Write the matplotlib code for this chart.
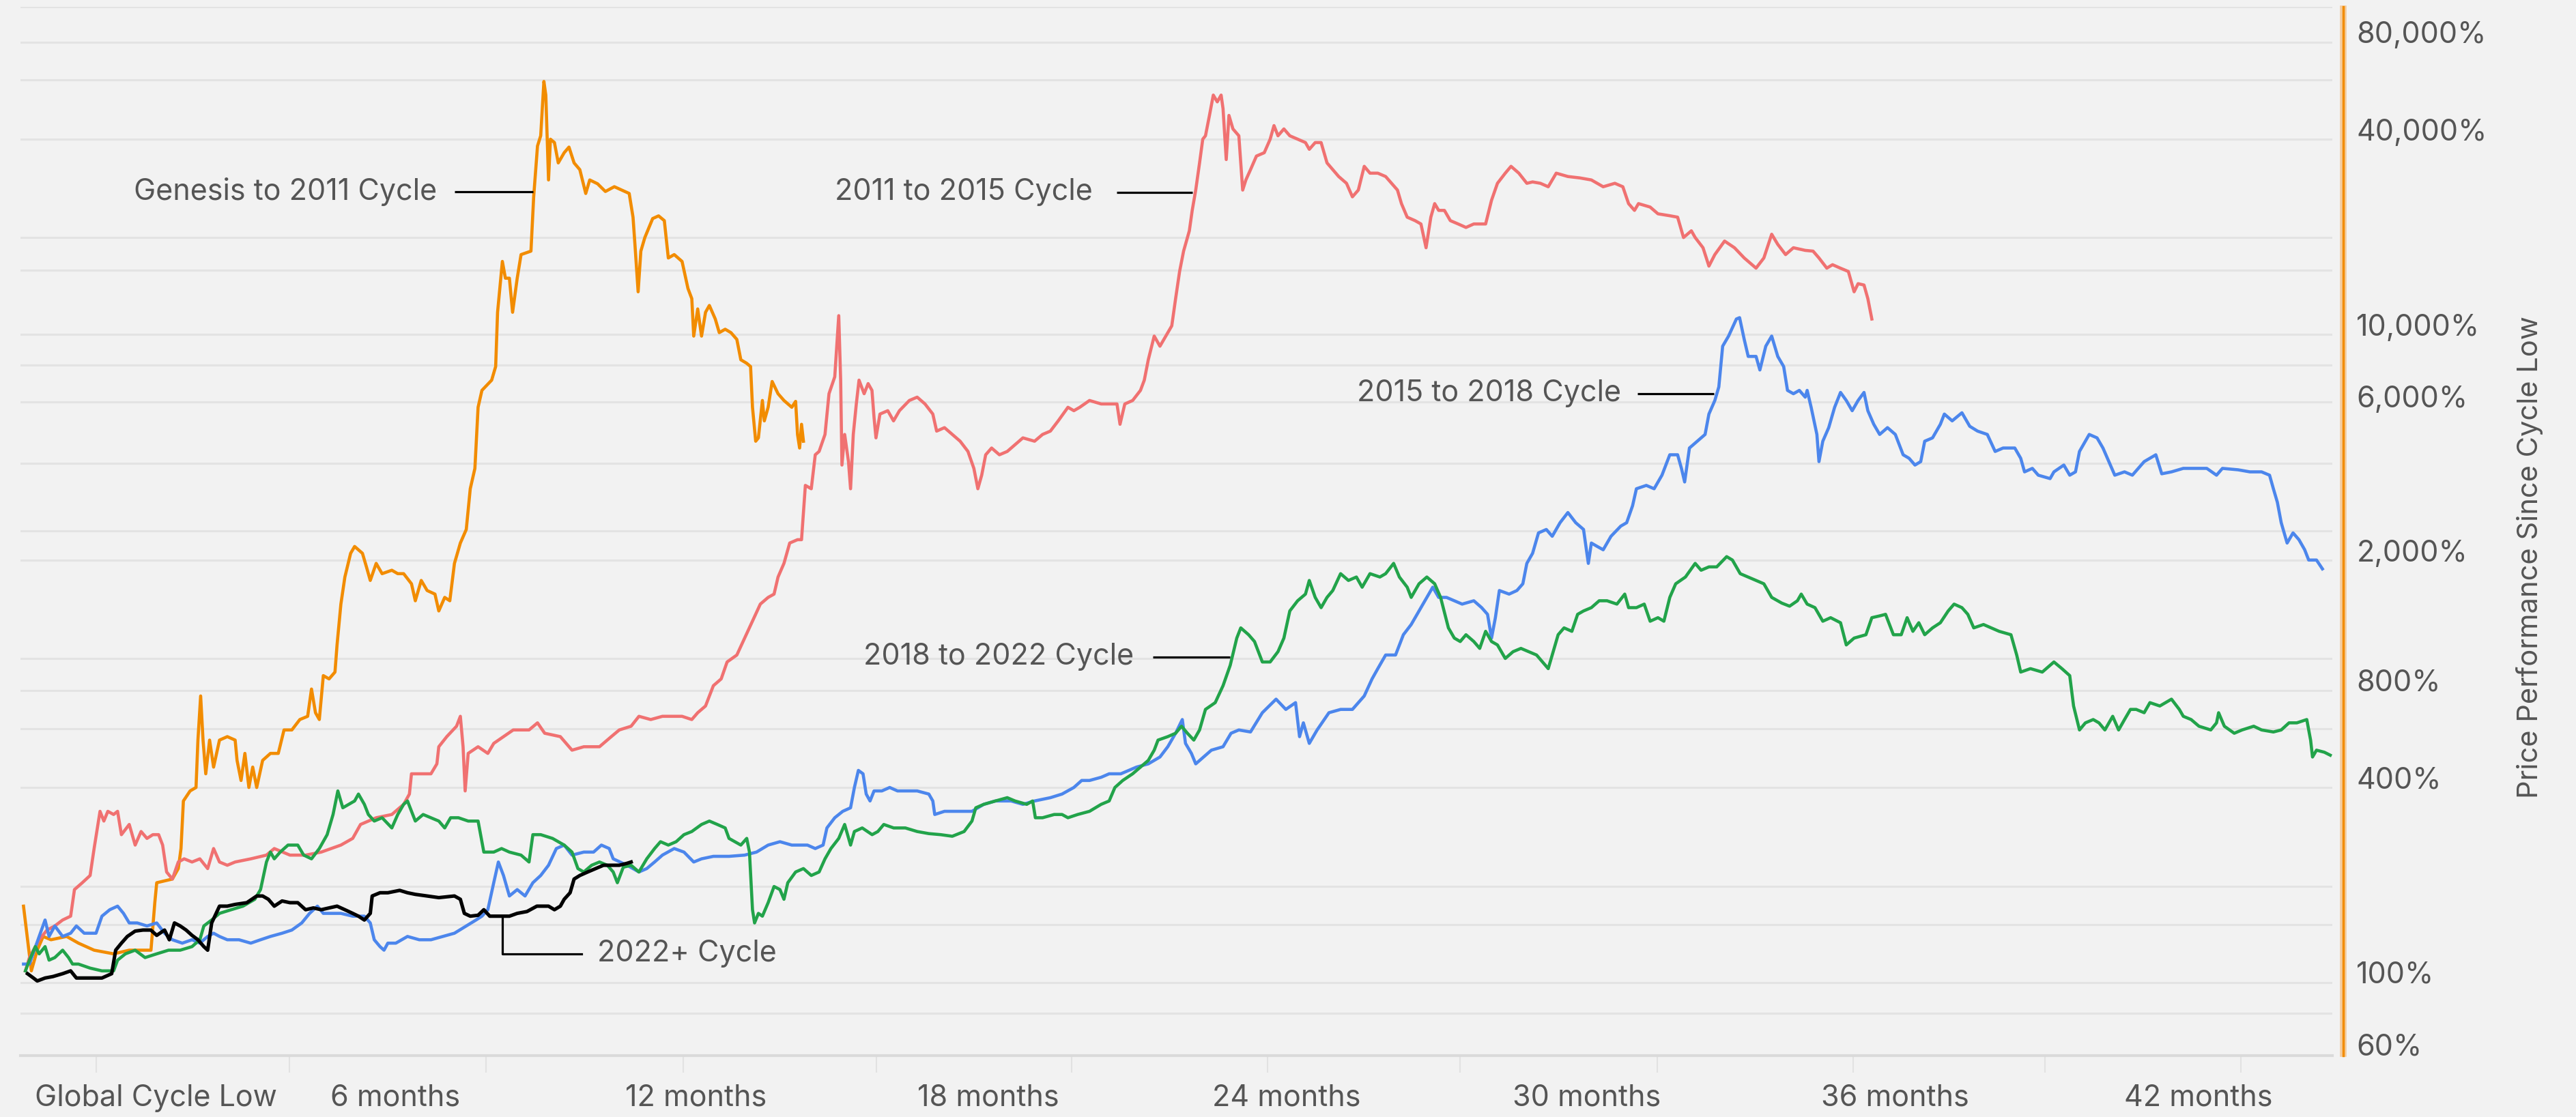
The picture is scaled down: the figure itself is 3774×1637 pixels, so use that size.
import matplotlib
matplotlib.use("Agg")
import matplotlib.pyplot as plt
from matplotlib.ticker import NullLocator, FixedLocator
from matplotlib.lines import Line2D

plt.rcParams['font.family'] = ['Inter', 'DejaVu Sans']

# ---- data: days since cycle low vs price performance (%) ----
genesis_days = [0.2, 5.1, 8.8, 12.5, 17.4, 27.2, 34.6, 44.4, 56.6, 66.4, 80, 82.4, 83.6, 93.4, 97.1, 98.8,
                100.3, 104.5, 108.2, 109.4, 111.1, 112.6, 114.3, 116.7, 119.2, 122.9, 127.8, 132.7, 133.9,
                136.4, 138.8, 141.3, 143.7, 146.2, 149.9, 154.8, 159.7, 163.3, 168.2, 173.2, 178.1, 180.5,
                183, 185.4, 187.9, 191.5, 195.2, 196.5, 198.9, 201.4, 205, 207.5, 212.4, 214.9, 217.3, 221,
                224.7, 230.8, 234.5, 238.2, 243.1, 245.5, 249.2, 252.9, 257.8, 260.2, 263.9, 267.1, 270,
                273.7, 277.4, 279.9, 282.8, 284.8, 287.2, 293.3, 295.8, 297, 300, 301.9, 304.4, 306.4, 309.3,
                311.7, 317.9, 319.6, 322, 324, 326, 327.2, 328.9, 330.1, 332.6, 335, 338.7, 341.7, 344.9,
                348.5, 352.2, 354.7, 359.6, 364.5, 370.1, 379.4, 381.8, 383, 385, 386.7, 389.2, 394.1, 397.8,
                401.4, 403.9, 407.6, 412.5, 416.2, 418.6, 419.8, 422.3, 424.7, 427.2, 429.6, 433.3, 435.8,
                439.5, 443.1, 446.8, 449.3, 452.9, 455.4, 456.6, 458.6, 460.3, 462.8, 464, 466.4, 468.9,
                472.6, 476.3, 481.2, 483.6, 484.8, 486.1, 487.3, 488.5]
genesis_pct = [160, 101, 117, 129, 126, 129, 123, 117, 114, 117, 117, 164, 189, 194, 209, 241,
               338, 363, 372, 521, 713, 521, 410, 521, 430, 521, 534, 521, 451,
               391, 474, 372, 430, 372, 451, 474, 474, 560, 560, 603, 617, 749,
               633, 603, 824, 805, 845, 1025, 1370, 1661, 1966, 2064, 1966, 1785, 1621, 1830,
               1701, 1743, 1701, 1701, 1583, 1403, 1621, 1509, 1471, 1305, 1437, 1403, 1830,
               2115, 2329, 3111, 3594, 5552, 6261, 6733, 7417, 10910, 15660, 13900, 13900, 10910, 13900,
               16440, 16850, 24790, 35580, 38260, 56300, 51100, 27950, 37340, 36460, 31550, 33920, 35300, 31550,
               30070, 25390, 27950, 27200, 25750, 26640, 25390, 21450, 17680, 12620, 16850, 18560, 21240, 21650,
               20930, 16050, 16440, 15660, 12920, 12020, 9210, 11170, 9210, 10910, 11450, 10400, 9440,
               9670, 9440, 8995, 7783, 7595, 7417, 5552, 4362, 4467, 5827, 5041, 5552, 6670,
               6114, 5827, 5552, 5790, 4577, 4156, 4920, 4362]

c2011_days = [1.4, 3.9, 6.4, 10, 14.9, 19.8, 24.7, 29.7, 32.1, 37, 41.9, 44.4, 48.1, 50.5, 53, 56.6, 59.1,
              61.5, 66.4, 70.1, 73.8, 77.5, 81.2, 84.8, 87.3, 89.8, 93.4, 97.1, 100.8, 105.7, 110.6, 115.5,
              119.2, 122.9, 127.8, 132.7, 142.5, 152.3, 157.2, 167, 176.8, 186.6, 198.9, 206.3, 211.2, 216.1,
              221, 230.8, 238.2, 241.8, 243.1, 249.2, 255.3, 259, 260.2, 265.2, 271.3, 273.7, 275.4, 276.7,
              278.6, 284.8, 290.9, 294.6, 300.7, 306.8, 316.7, 322, 326.5, 336.3, 343.6, 351, 360.8, 368.2,
              373.2, 380.6, 385.5, 392.9, 400.2, 412.5, 418.6, 422.3, 427.2, 432.1, 437, 440.7, 446.8, 451.7,
              456.6, 461.5, 466.4, 470.1, 472.6, 476.3, 479.9, 484.8, 487.3, 489.7, 493.4, 495.9, 498.3, 502,
              504.5, 508.1, 510.6, 511.8, 512.6, 514.3, 516.7, 518, 519.7, 521.6, 523.3, 526.5, 529, 531.4,
              532.7, 533.9, 536.4, 541.3, 544.9, 548.6, 554.8, 559.7, 564.6, 569.5, 571.9, 576.8, 581.7,
              586.6, 591.5, 595.2, 597.7, 600.1, 602.6, 606.3, 611.2, 616.1, 621, 625.9, 633.2, 638.2, 643.1,
              648, 654.1, 657.8, 661.5, 667.6, 674.9, 684.8, 686.7, 689.7, 694.6, 699.5, 701.9, 704.4, 708.1,
              711.7, 716.6, 719.1, 721.5, 724, 726.5, 730.1, 731.9, 734.1, 736.5, 738.5, 740.2, 742.7, 745.1,
              747.6, 750, 751.2, 753.2, 754.9, 757.4, 761.1, 763.5, 765.5, 768.4, 772.1, 777, 780.7, 783.1,
              785.6, 789.3, 793, 797.9, 802.8, 805.2, 808.9, 812.6, 816.3, 819.9, 823.6, 828.5, 832.2, 835.9,
              839.6, 843.2, 848.1, 853, 856.7, 860.4, 862.9, 866.5, 871.4, 875.1, 878.3, 881.3, 883.7, 886.2,
              889.8, 893.5, 898.4, 903.3, 908.2, 915.6, 919.3, 923, 927.9, 931.5, 936.4, 941.4, 945, 949.9,
              954.8, 959.8, 967.1, 974.5, 981.8, 989.2, 996.5, 1001.5, 1005.1, 1008.8, 1011.3, 1018.6,
              1023.5, 1030.9, 1035.8, 1039.5, 1044.4, 1046.8, 1051.7, 1055.4, 1059.1, 1065.2, 1071.4,
              1077.5, 1084.9, 1089.8, 1094.7, 1098.5, 1103.4, 1108.3, 1115.7, 1120.6, 1124.3, 1129.2,
              1132.8, 1137.7, 1142.7, 1146.3, 1148.8, 1152.5, 1154.9, 1157.4]
c2011_pct = [101, 111, 117, 126, 135, 139, 145, 149, 180, 189, 199, 241, 314, 293, 314, 307, 314,
             266, 286, 247, 272, 259, 266, 266, 247, 204, 194, 219, 224, 219, 224, 209,
             241, 219, 214, 219, 224, 230, 241, 230, 230, 235, 247, 259, 286, 293,
             300, 307, 330, 355, 410, 410, 410, 440, 497, 534, 575, 617, 497, 363,
             474, 497, 474, 509, 534, 560, 560, 589, 547, 534, 485, 497, 497, 534,
             560, 575, 617, 603, 617, 617, 603, 633, 664, 767, 805, 908, 954, 1076,
             1213, 1370, 1437, 1471, 1661, 1830, 2115, 2166, 2166, 3186, 3111, 3961, 4056, 4577,
             6114, 6895, 10650, 6733, 3682, 4577, 3773, 3111, 4577, 5685, 6733, 6114, 6571, 6261,
             5162, 4467, 5291, 5419, 5041, 5419, 5827, 5967, 5685, 5291, 4687, 4804, 4577,
             4362, 4056, 3596, 3111, 3426, 3961, 4156, 3961, 4056, 4256, 4467, 4362, 4577, 4687,
             5041, 5552, 5419, 5552, 5827, 5685, 5685, 4920, 5685, 5827, 6261, 6733, 7783, 9211,
             8572, 9440, 9906, 12020, 14580, 16850, 19470, 22510, 26010, 31550, 37340, 38260, 44220, 51100,
             48700, 51100, 46400, 32310, 44220, 40170, 38260, 26010, 27950, 30070, 33120, 33920, 37340, 41140,
             38260, 40170, 38260, 37340, 36460, 34750, 36460, 36460, 31550, 30070, 28640, 27290, 24790, 26010,
             30790, 29330, 29330, 28640, 27290, 26010, 23620, 21450, 20930, 20440, 17260, 21450, 23620, 22510,
             22510, 20930, 20440, 19940, 20440, 20440, 24190, 27290, 29330, 30790, 29330, 27290, 27560, 27290,
             26630, 29330, 28640, 28360, 27950, 26630, 27290, 26630, 23620, 22510, 23620, 23050,
             21970, 21670, 21450, 18560, 19470, 18560, 17260, 15150, 16440, 18100, 17260,
             16050, 14930, 16050, 19000, 17680, 16440, 17260, 16940, 16850, 16050, 14930,
             15300, 14930, 14580, 12620, 13370, 13240, 12020, 10400]

c2015_days = [0.2, 3.9, 10, 13.7, 16.2, 19.8, 24.7, 29.7, 33.3, 38.2, 45.6, 49.3, 54.2, 59.1, 62.8, 66.4,
              71.4, 77.5, 83.6, 88.5, 93.4, 99.6, 105.7, 110.6, 115.5, 119.2, 122.9, 127.8, 135.1, 142.5,
              148.6, 154.8, 162.1, 168.2, 174.4, 179.3, 184.2, 187.9, 192.8, 198.9, 206.3, 213.6, 217.3,
              219.8, 223.4, 225.9, 228.3, 233.3, 240.6, 248, 255.3, 262.7, 270, 277.4, 283.5, 287.2, 290.9,
              294.6, 297.5, 300.7, 304.4, 309.3, 314.2, 319.1, 324, 328.9, 333.8, 338.7, 343.6, 351, 357.1,
              362, 366.9, 369.4, 378.1, 385.5, 390.4, 395.3, 400.2, 407.6, 413.7, 419.8, 424.7, 432.1,
              441.9, 451.7, 459.1, 466.4, 473.8, 481.2, 491, 495.9, 500.8, 503.2, 508.1, 513.1, 518, 520.4,
              522.9, 525.8, 527.8, 530.2, 532.7, 537.6, 542.5, 547.4, 552.3, 559.7, 567, 569.5, 570.7,
              576.8, 584.2, 594, 601.4, 608.7, 618.5, 625.9, 633.2, 643.1, 650.4, 657.8, 662.7, 667.6,
              674.9, 679.9, 687.2, 692.1, 697, 704.4, 711.7, 716.6, 721.5, 725.7, 727.7, 731.4, 734.1, 739,
              743.9, 751.2, 756.2, 761.1, 768.4, 775.8, 784.4, 790.5, 796.6, 799.1, 801.5, 805.2, 810.1,
              817.5, 824.8, 832.2, 839.6, 844.5, 848.1, 853, 859.2, 864.1, 869, 873.9, 878.8, 882.5, 886.2,
              891.1, 896, 900.9, 908.2, 913.1, 916.8, 919.3, 921.7, 924.2, 930.3, 935.2, 938.9, 941.4, 945,
              948.7, 953.6, 957.3, 962.2, 967.1, 972, 976.9, 979.9, 981.8, 985.5, 989.2, 994.1, 1000.2,
              1003.9, 1007.6, 1010, 1016.2, 1021.1, 1026, 1030.9, 1035.8, 1038.2, 1040.2, 1043.2, 1048.1,
              1053, 1055.4, 1059.1, 1061.6, 1064, 1067.7, 1072.6, 1074.6, 1077.5, 1080, 1084.9, 1087.3,
              1091, 1094.7, 1098.5, 1102.2, 1104.6, 1108.3, 1112, 1115.7, 1116.9, 1119.4, 1123, 1124.3,
              1126.7, 1130.4, 1134.1, 1137.8, 1141.4, 1145.1, 1148.8, 1152.5, 1154.9, 1158.6, 1162.3,
              1167.2, 1172.1, 1177, 1180.7, 1184.4, 1188, 1190.5, 1195.4, 1200.3, 1202.8, 1207.7, 1213.8,
              1218.7, 1223.6, 1229.7, 1234.6, 1239.6, 1246.9, 1250.6, 1253, 1257.9, 1261.6, 1269, 1271.4,
              1277.6, 1281.3, 1284.9, 1287.4, 1293.5, 1298.4, 1302.1, 1305.8, 1309.5, 1315.6, 1320.5,
              1327.9, 1335.2, 1338.9, 1345, 1352.4, 1359.8, 1367.1, 1373.2, 1376.9, 1386.7, 1394.1, 1401.4,
              1406.4, 1408.8, 1411.3, 1413.7, 1417.4, 1421.1, 1424.8, 1428.4, 1430.9, 1435.8, 1439.5]
c2015_pct = [106, 106, 129, 145, 129, 139, 129, 132, 139, 132, 132, 149, 156, 160, 152, 142,
             142, 139, 142, 132, 126, 123, 126, 123, 129, 132, 129, 126, 126, 123,
             126, 129, 132, 135, 142, 152, 160, 152, 152, 152, 149, 149, 142,
             126, 120, 117, 123, 123, 129, 126, 126, 129, 132, 139, 145, 149, 156,
             189, 219, 199, 172, 180, 172, 189, 199, 214, 241, 247, 230, 235, 235,
             247, 241, 224, 214, 204, 209, 219, 230, 241, 235, 219, 224, 228,
             228, 230, 235, 247, 253, 247, 247, 241, 247, 279, 300, 314, 322, 372,
             420, 410, 355, 338, 363, 363, 372, 363, 363, 363, 355, 338, 307,
             314, 314, 314, 330, 338, 338, 330, 338, 346, 355, 372, 391, 391,
             400, 410, 410, 420, 430, 440, 462, 497, 547, 603, 509, 474, 440, 462,
             485, 497, 547, 560, 552, 633, 697, 648, 680, 534, 589, 509, 560,
             633, 648, 648, 713, 805, 866, 954, 954, 1102, 1185, 1305, 1437, 1545, 1437,
             1437, 1403, 1370, 1403, 1336, 1274, 1076, 1244, 1509, 1471, 1509, 1583, 1830, 1966,
             2273, 2329, 2219, 2444, 2627, 2444, 2329, 1830, 2115, 2064, 2016, 2219, 2385,
             2444, 2757, 3111, 3186, 3111, 3426, 3961, 3961, 3596, 3265, 4156, 4362,
             4577, 5291, 5827, 6417, 8572, 9211, 10400, 10500, 8995, 7971, 7971, 7239,
             8572, 9211, 7971, 7417, 6261, 6114, 6261, 5967, 6261, 5552, 4577, 3773,
             4362, 4804, 5552, 6170, 5827, 5419, 5827, 6170, 5419, 4920, 4577,
             4804, 4577, 3961, 3864, 3682, 3773, 4362, 4467, 4920, 5291, 5041, 5340,
             4850, 4687, 4577, 4056, 4156, 4156, 3864, 3508, 3596, 3426, 3344, 3508,
             3682, 3426, 3508, 4056, 4577, 4467, 4156, 3773, 3426, 3508, 3426,
             3773, 3961, 3460, 3508, 3596, 3596, 3596, 3426, 3596, 3560, 3508, 3508,
             3426, 3111, 2825, 2444, 2115, 2273, 2166, 2016, 1874, 1874, 1760]

c2018_days = [1.4, 3.9, 7.6, 10, 13.7, 16.2, 19.8, 24.7, 28.4, 30.9, 34.6, 41.9, 49.3, 56.6, 59.1, 64,
              70.1, 76.3, 83.6, 91, 98.3, 105.7, 110.6, 113.1, 118, 122.9, 130.2, 137.6, 145, 148.6, 152.3,
              154.8, 157.2, 160.9, 165.8, 171.9, 175.6, 180.5, 185.4, 190.3, 194, 197, 200.1, 203.8, 207.5,
              209.9, 213.6, 216.1, 219.8, 224.7, 230.8, 234.5, 238.2, 240.6, 245.5, 250.4, 255.3, 260.2,
              263.9, 267.6, 272.5, 278.6, 284.8, 288.4, 294.6, 299.5, 304.4, 311.7, 316.7, 319.1, 324,
              331.4, 338.7, 343.6, 347.3, 351, 355.9, 360.8, 365.7, 369.4, 372, 375.7, 380.6, 385.5, 390.4,
              395.3, 399, 403.9, 408.8, 413.7, 418.6, 424.7, 429.6, 434.6, 439.5, 441.9, 445.6, 449.3, 453,
              454.7, 456.6, 457.9, 460.3, 462.8, 466.4, 470.1, 473.8, 476.3, 478.7, 483.6, 488.5, 493.4,
              498.3, 502, 505.7, 510.6, 514.3, 518, 520.4, 525.3, 531.5, 535.1, 538.8, 545, 552.3, 559.7,
              567, 574.4, 581.7, 589.1, 594, 596.4, 601.4, 608.7, 616.1, 621, 628.3, 632, 633.7, 638.2,
              645.5, 650.4, 654.1, 660.2, 667.6, 674.9, 679.9, 683.5, 688.4, 694.6, 699.5, 704.4, 708.1,
              710.5, 716.6, 721.5, 725.2, 728.9, 732.9, 736.5, 740.2, 746.3, 751.2, 755.7, 759.8, 762.3,
              767.2, 770.9, 775.8, 780.7, 785.6, 789.3, 793, 797.9, 802.8, 805.2, 808.9, 812.6, 816.3,
              819.9, 824.8, 829.7, 834.7, 838.3, 843.2, 849.4, 853, 858, 861.6, 866.5, 869, 873.9, 878.8,
              883.7, 887.4, 892.3, 896, 899.7, 903.3, 908.2, 911.9, 915.6, 919.3, 923, 927.9, 932.8, 937.7,
              942.6, 947.5, 951.2, 954.8, 957.3, 961, 964.7, 969.6, 973.2, 976.9, 981.8, 986.7, 991.6,
              997.8, 1002.7, 1005.1, 1010, 1014.9, 1018.6, 1023.5, 1027.2, 1030.9, 1034.6, 1040.7, 1046.8,
              1050.5, 1055.4, 1060.3, 1066.5, 1070.1, 1075, 1079.9, 1084.9, 1089.8, 1094.7, 1101, 1105.9,
              1110.8, 1113.2, 1116.9, 1121.8, 1126.7, 1131.6, 1137.8, 1141.4, 1146.3, 1153.7, 1157.4,
              1162.3, 1166, 1170.9, 1175.8, 1179.5, 1183.1, 1186.8, 1190.5, 1195.4, 1200.3, 1205.2, 1208.9,
              1213.8, 1217.5, 1221.2, 1227.3, 1232.2, 1237.1, 1244.5, 1248.1, 1250.6, 1256.7, 1264.1, 1269,
              1271.4, 1276.4, 1281.3, 1283.7, 1287.4, 1291.1, 1296, 1299.6, 1303.3, 1308.2, 1311.9, 1315.6,
              1319.3, 1322.9, 1327.9, 1331.5, 1337.7, 1345, 1349.9, 1352.4, 1357.3, 1362.2, 1369.6, 1373.2,
              1374.5, 1378.1, 1384.3, 1389.2, 1396.5, 1401.4, 1408.8, 1413.7, 1418.6, 1423.5, 1429.7,
              1432.1, 1433.3, 1435.8, 1440.7, 1444.4]
c2018_pct = [101, 109, 120, 114, 120, 109, 111, 117, 111, 106, 106, 103, 101, 101, 109, 114,
             117, 111, 114, 117, 117, 120, 126, 139, 145, 152, 156, 160, 168, 180, 219,
             235, 224, 235, 247, 247, 230, 224, 241, 266, 307, 363, 322, 330, 338,
             355, 330, 307, 293, 300, 279, 307, 330, 338, 293, 307, 300, 293,
             279, 300, 300, 293, 293, 235, 235, 241, 235, 230, 219, 266, 266,
             259, 247, 235, 209, 204, 214, 219, 214, 204, 189, 211, 214, 204, 224,
             241, 253, 247, 253, 266, 272, 286, 293, 286, 279, 259, 253, 247, 259,
             235, 156, 142, 152, 149, 164, 184, 180, 168, 189, 204, 209, 199,
             204, 224, 241, 259, 286, 247, 272, 279, 266, 272, 286, 279, 279, 272,
             268, 266, 263, 272, 293, 322, 330, 338, 346, 338, 330, 338, 300, 300,
             307, 307, 300, 307, 314, 330, 338, 372, 391, 410, 430, 451, 485,
             521, 534, 547, 575, 547, 521, 560, 648, 680, 767, 887, 1076, 1157,
             1102, 1050, 908, 908, 977, 1076, 1305, 1403, 1471, 1621, 1437, 1336, 1437,
             1509, 1701, 1621, 1661, 1545, 1701, 1661, 1701, 1830, 1661, 1545, 1437, 1583, 1661,
             1583, 1437, 1157, 1076, 1050, 1102, 1050, 1000, 1129, 1050, 1025, 931, 977, 1000,
             977, 954, 908, 866, 954, 1102, 1157, 1129, 1274, 1305, 1336, 1403, 1403,
             1370, 1471, 1336, 1336, 1370, 1213, 1244, 1213, 1437, 1583, 1661, 1830,
             1743, 1785, 1785, 1920, 1874, 1701, 1661, 1621, 1583, 1437, 1380, 1350,
             1403, 1471, 1370, 1336, 1213, 1244, 1200, 1025, 1076, 1102, 1244,
             1260, 1274, 1102, 1102, 1244, 1129, 1200, 1102, 1157, 1200, 1305, 1370,
             1336, 1274, 1157, 1185, 1157, 1129, 1102, 954, 845, 866, 845, 887,
             908, 866, 824, 664, 560, 589, 603, 589, 560, 617, 560, 603,
             648, 648, 633, 680, 664, 697, 648, 617, 603, 575, 560, 589,
             633, 575, 547, 560, 575, 560, 552, 560, 589, 589, 603,
             521, 462, 485, 478, 468]

c2022_days = [2.7, 6.4, 8.8, 13.7, 18.6, 24.7, 29.7, 33.3, 39.5, 49.3, 55.4, 57.9, 61.5, 65.2, 70.1, 75,
              79.9, 83.6, 88.5, 91.5, 94.7, 98.3, 102, 105.7, 109.4, 113.1, 115.5, 118, 122.9, 127.8,
              132.7, 140, 146.2, 149.9, 153.5, 157.2, 162.1, 167, 171.9, 176.8, 181.7, 186.6, 191.5, 196.5,
              201.4, 206.3, 209.9, 213.6, 217.3, 218.5, 223.4, 228.3, 235.7, 240.6, 245.5, 252.9, 260.2,
              270, 273.7, 276.2, 279.9, 284.8, 288.4, 292.1, 297, 300.7, 304.4, 309.3, 315.4, 321.6, 325.2,
              328.9, 332.6, 336.3, 338.7, 342.4, 344.9, 348.5, 353.4, 358.4, 363.3, 366.9, 373.2, 378.1,
              380.6]
c2022_pct = [99, 96, 94, 96, 97, 99, 101, 96, 96, 96, 99, 117, 123, 129, 134, 135,
             135, 130, 135, 126, 142, 139, 135, 130, 126, 120, 117, 142, 160, 160,
             162, 164, 172, 172, 168, 160, 166, 164, 164, 156, 158, 156, 158, 160,
             156, 152, 149, 145, 152, 172, 176, 176, 179, 176, 174, 172, 170,
             172, 168, 152, 149, 150, 156, 149, 149, 149, 149, 152, 154, 160, 160,
             160, 156, 160, 168, 176, 194, 199, 204, 209, 214, 214, 214, 217,
             219]

cycle_names = ["Genesis to 2011 Cycle", "2011 to 2015 Cycle", "2015 to 2018 Cycle",
               "2018 to 2022 Cycle", "2022+ Cycle"]
month_labels = ["Global Cycle Low", "6 months", "12 months", "18 months", "24 months",
                "30 months", "36 months", "42 months"]
pct_ticks = [60, 100, 400, 800, 2000, 6000, 10000, 40000, 80000]

# ---- layout / style ----
W, H = 3774, 1637
BG = "#F2F2F2"
TXT = "#555555"
colors = ["#F28C00", "#F07171", "#4C86EC", "#22A34A", "#000000"]
widths = [3.3, 3.3, 3.3, 3.3, 3.7]
label_pos = [83, 233, 421, 604, 791, 979, 1172, 1362]          # x-label centres (days)
mark_pos = [45.7, 166.7, 289.7, 413.2, 534.2, 656.4, 779.1, 899.6, 1023.1, 1145.7, 1265.8, 1388.5]
grid_levels = [95700, 74300, 57000, 37350, 18570, 14720, 9330, 7500, 5770, 3730, 2310, 1870,
               931, 741, 565, 372, 184.5, 140.6, 93.1, 74.8]

fig = plt.figure(figsize=(W / 100, H / 100), dpi=100)
fig.patch.set_facecolor(BG)
ax = fig.add_axes([30 / W, 90 / H, 3387 / W, 1537 / H])
ax.set_facecolor(BG)
ax.set_yscale("log")
ax.set_xlim(-1.7, 1445.7)
ax.set_ylim(55.3, 95700)

for g in grid_levels:
    ax.axhline(g, color="#E3E3E3", lw=2.2, zorder=0)

series = [(genesis_days, genesis_pct), (c2011_days, c2011_pct), (c2015_days, c2015_pct),
          (c2018_days, c2018_pct), (c2022_days, c2022_pct)]
for (d, p), col, lw in zip(series, colors, widths):
    ax.plot(d, p, color=col, lw=lw, solid_joinstyle="round", zorder=3)

# annotations: text + connector line (days, pct)
ann = [
    (cycle_names[0], 259, 25700, [270, 319.4], [25700, 25700]),
    (cycle_names[1], 669.7, 25600, [684.6, 732], [25600, 25600]),
    (cycle_names[2], 1000.4, 6116, [1010.7, 1058.5], [6116, 6116]),
    (cycle_names[3], 695.3, 940, [707.3, 755.6], [940, 940]),
]
for name, tx, ty, lx, ly in ann:
    ax.text(tx, ty, name, ha="right", va="center", fontsize=31, color=TXT, zorder=5)
    ax.plot(lx, ly, color="black", lw=2.3, zorder=4, solid_capstyle="butt")
ax.plot([300, 300, 349.6], [149, 114, 114], color="black", lw=2.3, zorder=4)
ax.text(359.4, 114, cycle_names[4], ha="left", va="center", fontsize=31, color=TXT, zorder=5)

# spines
for s in ("top", "left"):
    ax.spines[s].set_visible(False)
ax.spines["bottom"].set_color("#DADADA")
ax.spines["bottom"].set_linewidth(3)
ax.spines["right"].set_position(("axes", 1.0047))
ax.spines["right"].set_color("#F28C00")
ax.spines["right"].set_linewidth(2.5)
ax.add_line(Line2D([1.0047, 1.0047], [0.002, 0.998], transform=ax.transAxes,
                   color="#F5B46A", lw=7, alpha=0.6, clip_on=False, zorder=1))

# y ticks on the right
ax.yaxis.tick_right()
ax.yaxis.set_major_locator(FixedLocator(pct_ticks))
ax.yaxis.set_minor_locator(NullLocator())
ax.set_yticklabels([f"{v:,}%" for v in pct_ticks])
ax.tick_params(axis="y", length=0, pad=14, labelsize=31, labelcolor=TXT)

# x ticks: labels and separate light marks
ax.set_xticks(label_pos)
ax.set_xticklabels(month_labels)
ax.set_xticks(mark_pos, minor=True)
ax.tick_params(axis="x", which="major", length=0, pad=30, labelsize=31, labelcolor=TXT)
ax.tick_params(axis="x", which="minor", length=18, width=1.5, color="#E2E2E2")

fig.text(3706 / W, 1 - 817 / H, "Price Performance Since Cycle Low", rotation=90,
         ha="center", va="center", fontsize=30, color=TXT)

fig.savefig("out.png", dpi=100, facecolor=BG)
